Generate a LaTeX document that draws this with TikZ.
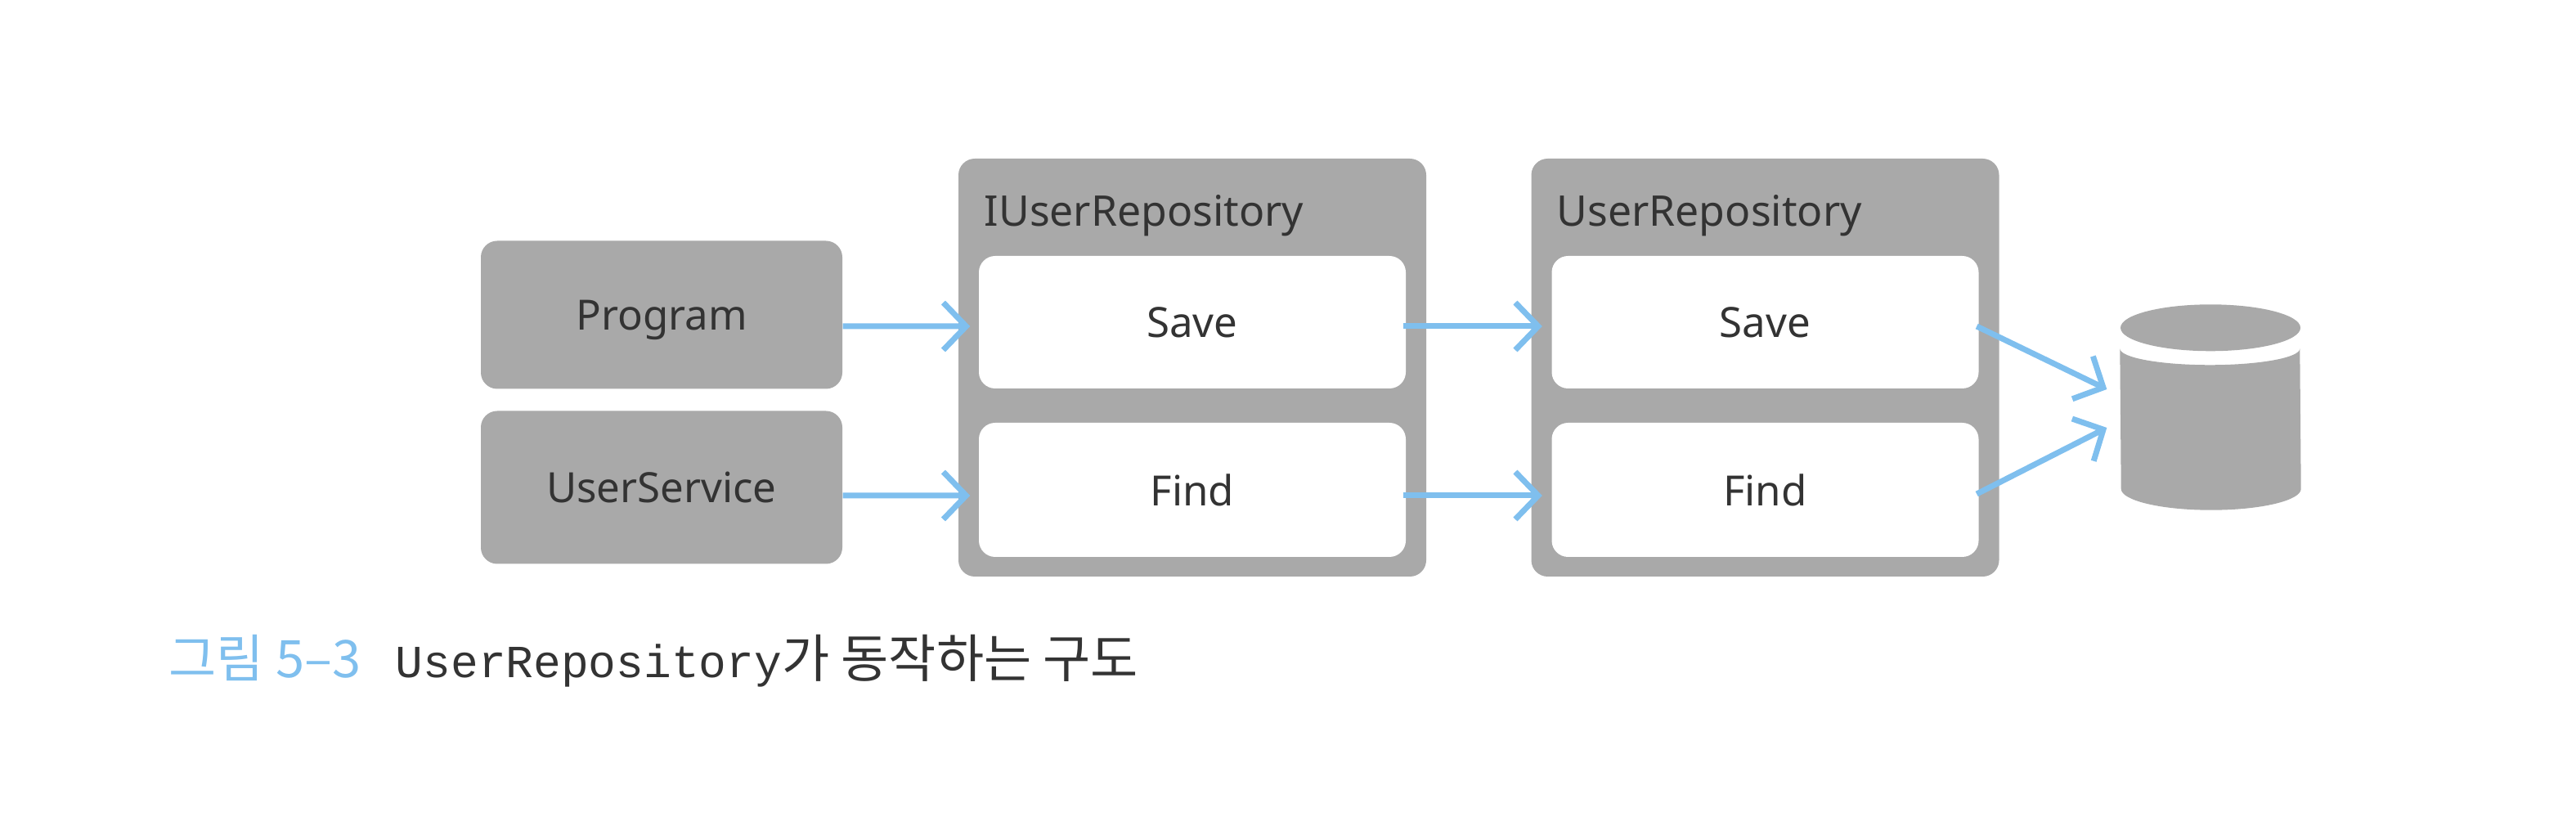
\documentclass[tikz,border=0pt]{standalone}
\usepackage{fontspec}
\setmainfont{Noto Sans}
\setmonofont{Liberation Mono}
\newfontfamily\krfont{Noto Sans CJK KR}
\usetikzlibrary{arrows.meta}
\definecolor{boxgray}{HTML}{A9A9A9}
\definecolor{flowblue}{HTML}{7FBFEE}
\definecolor{inkgray}{HTML}{333333}
\tikzset{
	graybox/.style={fill=boxgray,rounded corners=2mm,inner sep=0pt,text=inkgray,font=\fontsize{14.5}{16}\selectfont},
	whitebox/.style={fill=white,rounded corners=2mm,inner sep=0pt,minimum width=5.22cm,text=inkgray,font=\fontsize{14.5}{16}\selectfont},
	title/.style={anchor=west,inner sep=0pt,text=inkgray,font=\fontsize{14.7}{17}\selectfont},
	flow/.style={draw=flowblue,line width=.7mm,-{Straight Barb[length=2.8mm,width=5.8mm,line width=.7mm]}}
}
\begin{document}
\begin{tikzpicture}[line join=round]
	\useasboundingbox (0,0) rectangle (31.5,9.99);
	% left boxes
	\node[graybox,minimum width=4.42cm,minimum height=1.81cm,text depth=0pt] (program) at (8.09,6.14) {Program};
	\node[graybox,minimum width=4.42cm,minimum height=1.87cm] (userservice) at (8.09,4.03) {UserService};
	% repositories
	\foreach \r/\cx/\txt/\tx in {irepo/14.58/IUserRepository/12.03,repo/21.585/UserRepository/19.03}{
		\node[graybox,minimum width=5.72cm,minimum height=5.11cm] (\r) at (\cx,5.495) {};
		\node[title] (\r-title) at (\tx,7.35) {\txt};
		\node[whitebox,minimum height=1.62cm] (\r-save) at (\cx,6.05) {Save};
		\node[whitebox,minimum height=1.64cm] (\r-find) at (\cx,4.0) {Find};
	}
	% database
	\node[minimum width=2.2cm,minimum height=2.5cm,inner sep=0pt] (db) at (27.03,5.01) {};
	\fill[boxgray] ([yshift=-.285cm]db.north) ellipse [x radius=1.1,y radius=.285];
	\fill[boxgray] ([yshift=-.54cm]db.north west) arc[start angle=180,end angle=360,x radius=1.1,y radius=.2]
		-- ([yshift=.26cm]db.south east) arc[start angle=360,end angle=180,x radius=1.1,y radius=.26] -- cycle;
	% arrows
	\draw[flow,shorten >=1mm] ([yshift=-1.4mm]program.east) -- ([yshift=-.5mm]irepo-save.west);
	\draw[flow,shorten >=1mm] ([yshift=-1mm]userservice.east) -- ([yshift=-.7mm]irepo-find.west);
	\draw[flow,shorten >=1.1mm] ([yshift=-.5mm,xshift=-.4mm]irepo-save.east) -- ([yshift=-.5mm]repo-save.west);
	\draw[flow,shorten >=1.1mm] ([yshift=-.7mm,xshift=-.4mm]irepo-find.east) -- ([yshift=-.7mm]repo-find.west);
	\draw[flow] ([yshift=-.5mm,xshift=-.3mm]repo-save.east) -- ([xshift=-.16cm,yshift=.22cm]db.west);
	\draw[flow] ([yshift=-.5mm,xshift=-.3mm]repo-find.east) -- ([xshift=-.16cm,yshift=-.25cm]db.west);
	% caption
	\node[anchor=west,inner sep=0pt] (caption) at (2.06,1.91) {\fontsize{18}{20}\selectfont\krfont\textcolor{flowblue}{그림 5–3}\hspace{.67em}\textcolor{inkgray}{{\fontsize{16}{20}\selectfont\ttfamily UserRepository}가 동작하는 구도}};
\end{tikzpicture}
\end{document}
